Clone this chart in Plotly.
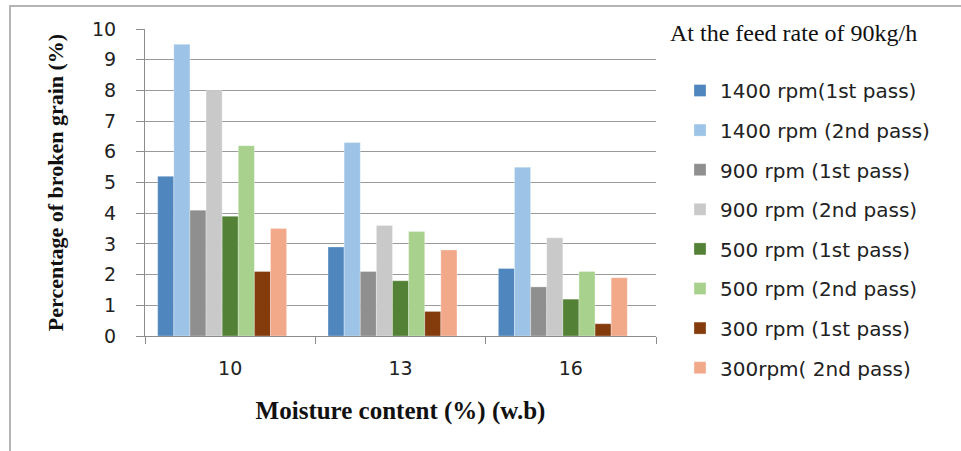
import plotly.graph_objects as go

# Moisture content categories (% w.b.)
moisture = ["10", "13", "16"]

# Broken grain percentage per drum speed and pass
series_names = [
    "1400 rpm(1st pass)",
    "1400 rpm (2nd pass)",
    "900 rpm (1st pass)",
    "900 rpm (2nd pass)",
    "500 rpm (1st pass)",
    "500 rpm (2nd pass)",
    "300 rpm (1st pass)",
    "300rpm( 2nd pass)",
]
rpm1400_1st = [5.2, 2.9, 2.2]
rpm1400_2nd = [9.5, 6.3, 5.5]
rpm900_1st = [4.1, 2.1, 1.6]
rpm900_2nd = [8.0, 3.6, 3.2]
rpm500_1st = [3.9, 1.8, 1.2]
rpm500_2nd = [6.2, 3.4, 2.1]
rpm300_1st = [2.1, 0.8, 0.4]
rpm300_2nd = [3.5, 2.8, 1.9]

y_ticks = list(range(0, 11))

series_values = [rpm1400_1st, rpm1400_2nd, rpm900_1st, rpm900_2nd,
                 rpm500_1st, rpm500_2nd, rpm300_1st, rpm300_2nd]
colors = ["#4f86bd", "#9dc3e6", "#8f8f8f", "#c9c9c9",
          "#538135", "#a9d18e", "#843c0c", "#f2a98a"]

W, H = 961, 451
ML, MR, MT, MB = 145, 305, 29, 115
pw, ph = W - ML - MR, H - MT - MB

def px_x(x):
    return (x - ML) / pw

def px_y(y):
    return (H - MB - y) / ph

# bar clusters sit slightly left of the category centre
group_shift = 0.047
pos = list(range(len(moisture)))

fig = go.Figure()
for i, (name, vals, col) in enumerate(zip(series_names, series_values, colors)):
    fig.add_trace(go.Bar(
        x=pos, y=vals, name=name, legendgroup=f"g{i}",
        marker=dict(color=col, line=dict(color="rgba(255,255,255,0.5)", width=0.6)),
    ))

sans = "DejaVu Sans"
serif = "Liberation Serif"

fig.update_layout(
    width=W, height=H,
    margin=dict(l=ML, r=MR, t=MT, b=MB),
    barmode="group", bargap=0.243, bargroupgap=0,
    paper_bgcolor="white", plot_bgcolor="white",
    font=dict(family=sans, size=18, color="#222222"),
    showlegend=True,
    legend=dict(
        x=px_x(680), y=px_y(71), xanchor="left", yanchor="top",
        font=dict(family=sans, size=20, color="#222222"),
        tracegroupgap=10.6, bgcolor="rgba(0,0,0,0)", maxheight=440,
    ),
    xaxis=dict(
        range=[-0.5 + group_shift, len(moisture) - 0.5 + group_shift],
        tickvals=[p + group_shift for p in pos], ticktext=moisture,
        ticks="", showgrid=False, zeroline=False,
        showline=True, linecolor="#8c8c8c", linewidth=1,
        minor=dict(tickvals=[p - 0.5 + group_shift for p in pos + [len(pos)]],
                   ticks="outside", ticklen=7, tickcolor="#8c8c8c", showgrid=False),
        tickfont=dict(family=sans, size=19, color="#222222"),
        ticklabelstandoff=15,
        title=dict(text="<b>Moisture content (%) (w.b)</b>",
                   font=dict(family=serif, size=25, color="#111111"), standoff=23),
        fixedrange=True,
    ),
    yaxis=dict(
        range=[0, 10], tickvals=y_ticks,
        showgrid=True, gridcolor="#9a9a9a", gridwidth=1,
        zeroline=False, showline=True, linecolor="#8c8c8c", linewidth=1,
        ticks="outside", ticklen=8, tickcolor="#8c8c8c",
        tickfont=dict(family=sans, size=19, color="#222222"),
        ticklabelstandoff=16,
        title=dict(text="<b>Percentage of broken grain (%)</b>",
                   font=dict(family=serif, size=22, color="#111111"), standoff=22),
        fixedrange=True,
    ),
    annotations=[dict(
        text="At the feed rate of 90kg/h", xref="paper", yref="paper",
        x=px_x(668), y=px_y(33), xanchor="left", yanchor="middle",
        showarrow=False, font=dict(family=serif, size=24, color="#111111"),
    )],
    shapes=[dict(
        type="path", xref="paper", yref="paper",
        path=f"M {px_x(10)} {px_y(470)} L {px_x(10)} {px_y(6)} L {px_x(980)} {px_y(6)}",
        line=dict(color="#b4b4b4", width=2), layer="below",
    )],
)

fig.write_html("out.html")
